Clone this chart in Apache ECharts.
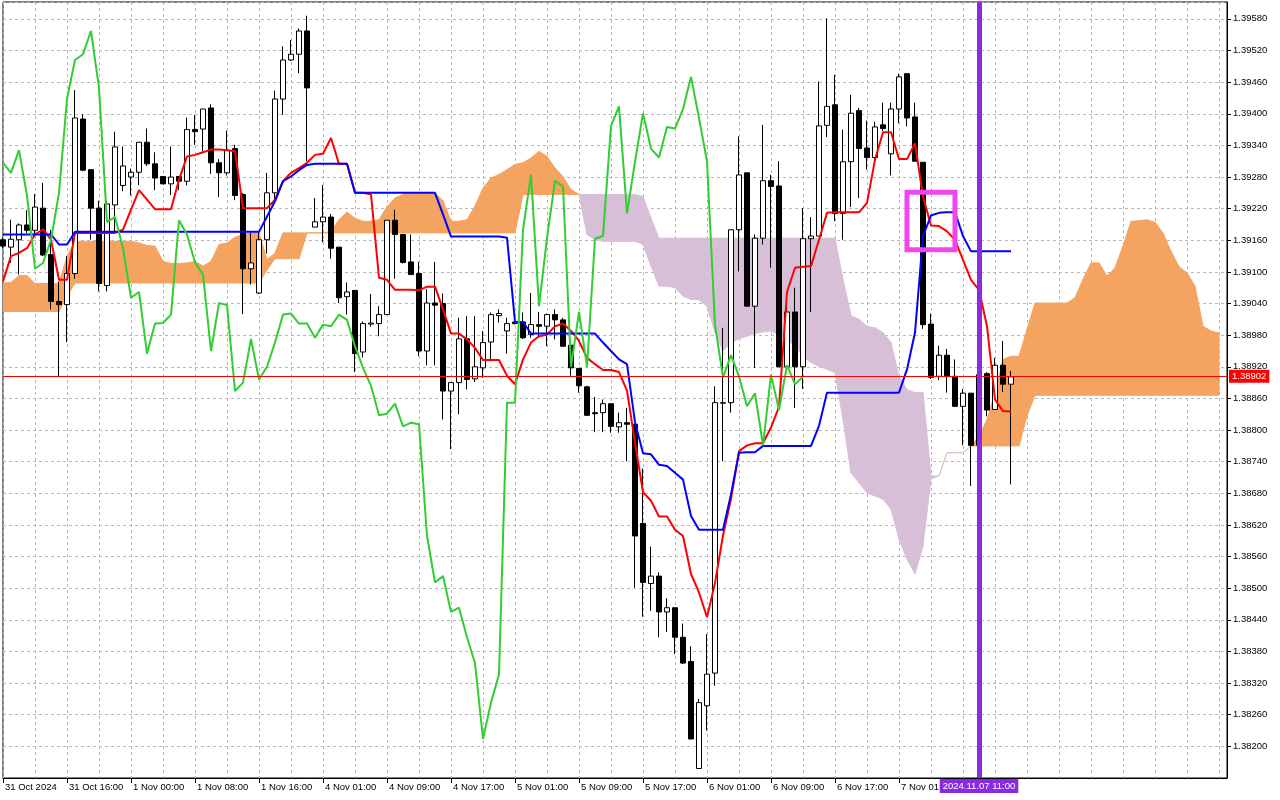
<!DOCTYPE html>
<html>
<head>
<meta charset="utf-8">
<script src="https://cdn.jsdelivr.net/npm/echarts@6/dist/echarts.min.js"></script>
<style>html,body{margin:0;padding:0;background:#fff}#chart{width:1280px;height:800px}</style>
</head>
<body>
<div id="chart"></div>
<script>
// Prices in points (1 point = 0.00001), hourly bars
const open = [
139161,139147,139161,139189,139179,139221,139133,139044,139038,139097,
139390,139294,139221,139074,139227,139264,139280,139289,139346,139305,
139281,139267,139281,139272,139370,139371,139411,139307,139288,139334,
139247,139106,139060,139161,139250,139428,139502,139513,139557,139185,
139195,139204,139147,139053,139065,138948,139001,139002,139019,139198,
139171,139119,139097,138950,139041,139040,138874,138890,138973,138897,
138918,138967,139017,138988,139005,139005,138981,139000,138997,139019,
139009,138961,138917,138882,138833,138833,138850,138806,138814,138811,
138623,138509,138523,138455,138463,138407,138361,138158,138277,138339,
138851,138852,139180,139288,139035,139164,139273,139263,138920,139024,
138920,139163,139168,139378,139417,139211,139309,139406,139335,139317,
139379,139324,139409,139476,139394,139308,139001,138902,138942,138902,
138845,138870,138771,138907,138839,138923,138887];
const high = [
139165,139199,139192,139217,139248,139269,139180,139082,139130,139445,
139399,139294,139235,139235,139366,139338,139296,139346,139372,139327,
139281,139338,139281,139393,139398,139409,139418,139314,139368,139341,
139250,139174,139176,139288,139444,139528,139540,139562,139586,139240,
139265,139210,139147,139080,139065,139006,139058,139035,139198,139218,
139171,139171,139119,139067,139119,139059,138890,139013,139016,139016,
138988,139023,139029,139013,139005,139023,139060,139024,139021,139029,
139013,138966,138917,138884,138863,138858,138850,138833,138842,138811,
138727,138579,138530,138481,138463,138433,138390,138290,138413,138883,
138994,139180,139357,139288,139171,139379,139284,139310,139041,139070,
139221,139204,139461,139581,139474,139370,139436,139411,139387,139385,
139421,139421,139476,139476,139421,139308,139021,138960,138954,138934,
138878,138870,138915,138910,138937,138969,138912];
const low = [
139145,139117,139095,139174,139166,139130,139029,138902,138967,139087,
139291,139161,139063,139063,139174,139253,139245,139265,139301,139255,
139267,139246,139255,139264,139341,139329,139286,139242,139283,139236,
139020,139076,139058,139135,139232,139398,139500,139477,139310,139185,
139156,139125,139041,139019,138910,138938,138996,138978,139019,139087,
139116,139095,138940,138923,138923,138820,138764,138830,138877,138891,
138899,138933,139004,138945,139000,138973,138975,138975,138959,138972,
138959,138903,138871,138827,138796,138796,138795,138795,138741,138501,
138446,138457,138407,138417,138375,138356,138214,138158,138230,138315,
138741,138833,139101,139035,138918,139152,139108,138920,138920,138842,
138878,139024,139168,139356,139196,139161,139223,139240,139294,139307,
139367,139283,139382,139376,139310,138992,138897,138895,138871,138844,
138771,138694,138760,138826,138839,138872,138697];
const close = [
139149,139162,139189,139179,139223,139132,139044,139038,139097,139392,
139293,139221,139078,139229,139337,139301,139289,139346,139305,139278,
139267,139280,139272,139370,139366,139409,139307,139288,139331,139245,
139106,139117,139161,139250,139428,139502,139513,139557,139449,139195,
139204,139145,139051,139062,138945,139002,139003,139019,139198,139171,
139118,139095,138950,139041,139037,138874,138890,138973,138896,138920,
138966,139019,139021,139002,139002,138975,139000,138997,139019,139009,
138959,138918,138884,138828,138831,138850,138807,138814,138811,138599,
138511,138523,138455,138463,138407,138358,138214,138283,138337,138852,
138852,139180,139284,139035,139164,139273,139262,138920,139024,138920,
139163,139168,139377,139414,139211,139309,139401,139334,139317,139375,
139372,139409,139470,139392,139310,139000,138900,138942,138902,138845,
138870,138771,138905,138838,138923,138887,138901];

// Ichimoku lines
const tenkan = [
139082,139130,139136,139145,139171,139181,139161,139085,139085,139174,
139174,139174,139174,139174,139174,139180,139218,139255,139237,139219,
139219,139219,139275,139319,139322,139327,139332,139332,139331,139329,
139221,139221,139221,139221,139237,139272,139288,139297,139307,139322,
139324,139354,139305,139305,139250,139250,139247,139089,139085,139066,
139066,139066,139065,139072,139072,139029,138983,138983,138972,138956,
138933,138933,138933,138903,138887,138934,138966,138978,138981,138997,
139002,138988,138969,138937,138925,138914,138914,138910,138875,138776,
138682,138666,138636,138636,138611,138599,138527,138492,138445,138510,
138600,138669,138760,138771,138775,138775,138805,138844,139062,139108,
139110,139111,139161,139212,139213,139213,139213,139213,139231,139313,
139365,139365,139314,139314,139344,139243,139188,139187,139177,139161,
139123,139085,139066,138997,138858,138836,138835];
const kijun = [
139171,139171,139171,139171,139171,139171,139171,139152,139152,139176,
139176,139176,139176,139176,139176,139176,139176,139176,139176,139176,
139176,139176,139176,139176,139176,139176,139176,139176,139176,139176,
139176,139176,139176,139205,139234,139272,139281,139293,139303,139305,
139305,139305,139305,139305,139250,139250,139250,139250,139250,139250,
139250,139250,139250,139250,139250,139209,139167,139167,139167,139167,
139167,139167,139167,139165,139005,139005,138983,138983,138983,138983,
138983,138983,138983,138983,138983,138966,138950,138934,138925,138815,
138756,138754,138734,138732,138719,138706,138637,138611,138611,138611,
138611,138678,138757,138758,138758,138770,138770,138770,138770,138770,
138770,138770,138808,138871,138871,138871,138871,138871,138871,138871,
138871,138871,138871,138915,138985,139168,139207,139212,139213,139213,
139168,139139,139139,139139,139139,139139,139139];
const chikou = [
139307,139288,139331,139245,139106,139117,139161,139250,139428,139502,
139513,139557,139449,139195,139204,139145,139051,139062,138945,139002,
139003,139019,139198,139171,139118,139095,138950,139041,139037,138874,
138890,138973,138896,138920,138966,139019,139021,139002,139002,138975,
139000,138997,139019,139009,138959,138918,138884,138828,138831,138850,
138807,138814,138811,138599,138511,138523,138455,138463,138407,138358,
138214,138283,138337,138852,138852,139180,139284,139035,139164,139273,
139262,138920,139024,138920,139163,139168,139377,139414,139211,139309,
139401,139334,139317,139375,139372,139409,139470,139392,139310,139000,
138900,138942,138902,138845,138870,138771,138905,138838,138923,138887,
138901];
const spanA = [
139079,139080,139093,139093,139078,139078,139078,139078,139130,139158,
139158,139158,139158,139158,139158,139158,139158,139155,139150,139149,
139120,139116,139116,139117,139120,139111,139120,139152,139155,139166,
139171,139174,139174,139123,139136,139174,139174,139174,139174,139174,
139174,139177,139199,139213,139202,139196,139196,139199,139224,139240,
139247,139250,139250,139250,139250,139235,139196,139196,139199,139225,
139259,139278,139285,139294,139304,139307,139316,139329,139319,139297,
139281,139256,139247,139171,139161,139158,139158,139158,139158,139158,
139152,139111,139073,139073,139070,139054,139048,139047,139035,138985,
138950,138966,138973,138978,138983,138986,138988,138981,138972,138959,
138940,138928,138921,138915,138909,138820,138719,138700,138681,138675,
138669,138650,138593,138555,138527,138580,138707,138713,138757,138757,
138757,138770,138789,138820,138871,138934,138940,138940,138991,139041,
139041,139041,139041,139041,139051,139086,139117,139117,139092,139108,
139149,139196,139197,139199,139194,139174,139139,139110,139098,139073,
138997,138988,138984];
const spanB = [
139025,139025,139025,139025,139025,139025,139025,139025,139054,139079,
139079,139079,139079,139079,139079,139079,139079,139079,139079,139079,
139079,139079,139079,139079,139079,139079,139079,139079,139079,139079,
139079,139079,139079,139104,139125,139125,139125,139125,139174,139174,
139174,139174,139174,139174,139174,139174,139174,139174,139174,139174,
139174,139174,139174,139174,139174,139174,139174,139174,139174,139174,
139174,139174,139174,139174,139174,139247,139247,139247,139247,139247,
139247,139247,139247,139247,139247,139247,139247,139247,139247,139247,
139243,139202,139164,139164,139164,139164,139164,139164,139164,139164,
139164,139164,139164,139164,139164,139164,139164,139164,139164,139164,
139164,139164,139164,139164,139164,139086,139017,139010,138997,138994,
138985,138966,138902,138877,138871,138871,138713,138713,138757,138757,
138757,138770,138770,138770,138770,138770,138770,138770,138827,138866,
138866,138866,138866,138866,138866,138866,138866,138866,138866,138866,
138866,138866,138866,138866,138866,138866,138866,138866,138866,138866,
138866,138866,138866];

const tickBars = [0,8,16,24,32,40,48,56,64,72,80,88,96,104,112];
const tickLabels = ['31 Oct 2024','31 Oct 16:00','1 Nov 00:00','1 Nov 08:00','1 Nov 16:00',
  '4 Nov 01:00','4 Nov 09:00','4 Nov 17:00','5 Nov 01:00','5 Nov 09:00','5 Nov 17:00',
  '6 Nov 01:00','6 Nov 09:00','6 Nov 17:00','7 Nov 01:00'];
const bidPrice = 138902;
const cursorBar = 122;
const cursorLabel = '2024.11.07 11:00';
const boxCorners = [[113, 139251], [119, 139142]];

const BAR_COUNT = 154;
const FONT = 'Liberation Sans';
const categories = Array.from({length: BAR_COUNT}, (_, i) => String(i));
const labelMap = {};
tickBars.forEach((b, k) => { labelMap[b] = tickLabels[k]; });

const candleData = open.map((o, i) => [o, close[i], low[i], high[i]]);
// cloud segments: [i, A_i, B_i, A_i+1, B_i+1, sign carried over when the spans touch]
let lastSign = 1;
const cloudData = spanA.slice(0, -1).map((a, i) => {
  const s = (a - spanB[i]) + (spanA[i + 1] - spanB[i + 1]);
  if (s !== 0) lastSign = s > 0 ? 1 : -1;
  return [i, a, spanB[i], spanA[i + 1], spanB[i + 1], lastSign];
});

const UP = '#f4a460', DN = '#d8bfd8';
function renderCloud(params, api) {
  const i = api.value(0);
  const a0 = api.value(1), b0 = api.value(2), a1 = api.value(3), b1 = api.value(4);
  const sign = api.value(5);
  const pa0 = api.coord([i, a0]), pb0 = api.coord([i, b0]);
  const pa1 = api.coord([i + 1, a1]), pb1 = api.coord([i + 1, b1]);
  const d0 = a0 - b0, d1 = a1 - b1;
  const poly = (pts, c) => ({type: 'polygon', shape: {points: pts}, style: {fill: c, stroke: c, lineWidth: 1}});
  const children = [];
  if (d0 * d1 >= 0) {
    children.push(poly([pa0, pa1, pb1, pb0], sign > 0 ? UP : DN));
  } else {
    const t = d0 / (d0 - d1);
    const x = [pa0[0] + t * (pa1[0] - pa0[0]), pa0[1] + t * (pa1[1] - pa0[1])];
    children.push(poly([pa0, x, pb0], d0 > 0 ? UP : DN));
    children.push(poly([x, pa1, pb1], d1 > 0 ? UP : DN));
  }
  return {type: 'group', children};
}

const gridLine = {color: '#bdb4bd', type: [3, 3], width: 1};
const chart = echarts.init(document.getElementById('chart'));
chart.setOption({
  animation: false,
  backgroundColor: '#ffffff',
  grid: {left: 3, right: 53, top: 2, bottom: 22, show: true, borderColor: '#000', borderWidth: 1, backgroundColor: 'transparent'},
  xAxis: {
    type: 'category', data: categories, boundaryGap: false,
    axisLine: {show: true, lineStyle: {color: '#000', width: 1}},
    axisTick: {show: true, length: 5, interval: (i) => i % 8 === 0 && i <= 120, lineStyle: {color: '#000'}},
    axisLabel: {
      interval: (i) => labelMap[i] !== undefined,
      formatter: (v, i) => labelMap[i] || '',
      align: 'left', margin: 4, color: '#000', fontFamily: FONT, fontSize: 9.5, padding: [0, 0, 0, 2]
    },
    splitLine: {show: true, interval: (i) => i % 4 === 0, lineStyle: gridLine}
  },
  yAxis: {
    type: 'value', position: 'right', min: 138140, max: 139612, interval: 60,
    axisLine: {show: true, lineStyle: {color: '#000'}},
    axisTick: {show: true, length: 4, lineStyle: {color: '#000'}},
    axisLabel: {formatter: (v) => (v / 100000).toFixed(5), showMinLabel: false, showMaxLabel: false,
      margin: 6, color: '#000', fontFamily: FONT, fontSize: 9.5},
    splitLine: {show: true, lineStyle: gridLine}
  },
  series: [
    {type: 'custom', name: 'Kumo', renderItem: renderCloud, data: cloudData,
      encode: {x: 0, y: [1, 2, 3, 4]}, z: 1, silent: true, clip: true},
    {type: 'candlestick', name: 'Price', data: candleData, barWidth: 5, z: 3,
      itemStyle: {color: '#ffffff', color0: '#000000', borderColor: '#000000', borderColor0: '#000000', borderWidth: 1},
      markLine: {
        silent: true, symbol: ['none', 'none'], z: 10, animation: false,
        data: [
          {yAxis: bidPrice, lineStyle: {color: '#ff0000', width: 1, type: 'solid'},
            label: {show: true, position: 'end', distance: 2, formatter: (bidPrice / 100000).toFixed(5),
              backgroundColor: '#ff0000', color: '#ffffff', padding: [2, 3, 1, 3], fontFamily: FONT, fontSize: 9.5}},
          {xAxis: cursorBar, lineStyle: {color: '#8a2be2', width: 5, type: 'solid'},
            label: {show: true, position: 'start', distance: 1, formatter: cursorLabel,
              backgroundColor: '#8a2be2', color: '#ffffff', padding: [2, 3, 2, 3], fontFamily: FONT, fontSize: 9.5}}
        ]
      },
      markArea: {
        silent: true, z: 10,
        itemStyle: {color: 'rgba(0,0,0,0)', borderColor: '#f046f0', borderWidth: 5},
        data: [[{xAxis: boxCorners[0][0], yAxis: boxCorners[0][1]}, {xAxis: boxCorners[1][0], yAxis: boxCorners[1][1]}]]
      }
    },
    {type: 'line', name: 'Tenkan-sen', data: tenkan, symbol: 'none', z: 4, lineStyle: {color: '#ff0000', width: 2}},
    {type: 'line', name: 'Kijun-sen', data: kijun, symbol: 'none', z: 4, lineStyle: {color: '#0000ff', width: 2}},
    {type: 'line', name: 'Chikou Span', data: chikou, symbol: 'none', z: 4, lineStyle: {color: '#32cd32', width: 2}}
  ]
});
</script>
</body>
</html>
